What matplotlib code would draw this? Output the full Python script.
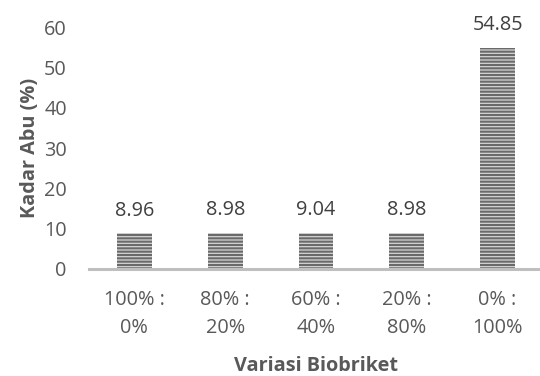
import matplotlib.pyplot as plt
import numpy as np

categories = ["100% :\n0%", "80% :\n20%", "60% :\n40%", "20% :\n80%", "0% :\n100%"]
kadar_abu = [8.96, 8.98, 9.04, 8.98, 54.85]
yticks = [0, 10, 20, 30, 40, 50, 60]

plt.rcParams['font.family'] = ['Open Sans', 'DejaVu Sans']
plt.rcParams['hatch.linewidth'] = 1.5
plt.rcParams['hatch.color'] = '#6a6a6a'

text_color = '#595959'
fs = 14.3

fig = plt.figure(figsize=(5.4, 3.76), dpi=100)
ax = fig.add_axes([89 / 540, 1 - 269 / 376, 454 / 540, 242 / 376])

x = np.arange(len(categories))
bars = ax.bar(x, kadar_abu, width=0.385, color='#d4d4d4', hatch='-----',
              edgecolor='#6a6a6a', linewidth=0)

# value labels sit a fixed distance above each bar
for xi, v in zip(x, kadar_abu):
    ax.text(xi, v + 4.3, f"{v:.2f}", ha='center', va='baseline',
            fontsize=fs, color='#404040')

ax.set_xlim(-0.5, 4.5)
ax.set_ylim(0, 60)
ax.set_yticks(yticks)
ax.set_yticklabels([str(t) for t in yticks], fontsize=fs, color=text_color)
ax.set_xticks(x)
ax.set_xticklabels(categories, fontsize=fs, color=text_color, linespacing=1.55)
ax.tick_params(axis='both', length=0)
ax.tick_params(axis='y', pad=16)
ax.tick_params(axis='x', pad=15)

for side in ['top', 'right', 'left']:
    ax.spines[side].set_visible(False)
ax.spines['bottom'].set_color('#bfbfbf')
ax.spines['bottom'].set_linewidth(2.2)

ax.set_ylabel('Kadar Abu (%)', fontsize=fs, fontweight='bold', color=text_color, labelpad=3)
fig.text(316 / 540, 5 / 376, 'Variasi Biobriket', ha='center', va='baseline',
         fontsize=fs, fontweight='bold', color=text_color)

fig.savefig('out.png', dpi=100)
